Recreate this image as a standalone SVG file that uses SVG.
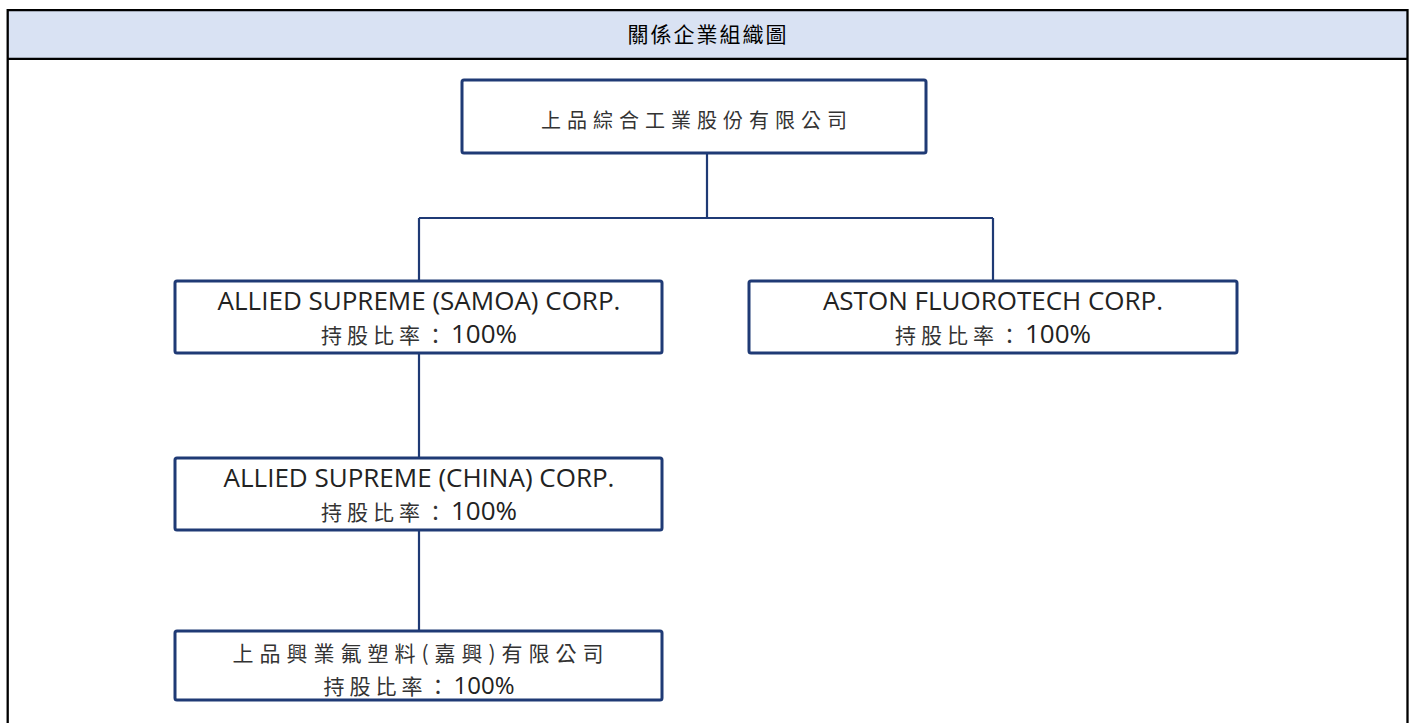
<svg xmlns="http://www.w3.org/2000/svg" width="1410" height="723" viewBox="0 0 1410 723">
<style>
.frame{fill:none;stroke:#000;stroke-width:2.3}
.node{fill:#fff;stroke:#1f3a75;stroke-width:3}
.conn{fill:none;stroke:#1f3a75;stroke-width:2.2}
.lat{font-family:"Open Sans","Noto Sans",sans-serif;font-size:26px;fill:#222}
.cj{font-family:"Noto Sans CJK TC","Noto Sans CJK SC",sans-serif;font-size:21px;letter-spacing:5px;fill:#333}
.title{font-family:"Noto Sans CJK TC","Noto Sans CJK SC",sans-serif;font-size:21px;letter-spacing:2px;fill:#000}
</style>
<rect x="0" y="0" width="1410" height="723" fill="#fff"/>
<g id="table">
<rect x="7.7" y="10.2" width="1399.8" height="48.6" fill="#d9e2f3"/>
<path class="frame" d="M7.7 723V10.2H1407.5V723M7.7 58.8H1407.5"/>
<text class="title" x="708" y="42" text-anchor="middle">關係企業組織圖</text>
</g>
<g id="connectors">
<path class="conn" d="M707 153V218M419 218H993M419 218V281M993 218V281M419 353V458M419 530V631"/>
</g>
<g id="n-parent">
<rect class="node" x="462" y="80" width="464" height="73" rx="2"/>
<text class="cj" x="697" y="128" text-anchor="middle" style="font-size:20px;letter-spacing:6px">上品綜合工業股份有限公司</text>
</g>
<g id="n-samoa">
<rect class="node" x="175" y="281" width="487" height="72" rx="2"/>
<text class="lat" x="419" y="310" text-anchor="middle">ALLIED SUPREME (SAMOA) CORP.</text>
<text x="419" y="343" text-anchor="middle"><tspan class="cj">持股比率：</tspan><tspan class="lat">100%</tspan></text>
</g>
<g id="n-aston">
<rect class="node" x="749" y="281" width="488" height="72" rx="2"/>
<text class="lat" x="993" y="310" text-anchor="middle">ASTON FLUOROTECH CORP.</text>
<text x="993" y="343" text-anchor="middle"><tspan class="cj">持股比率：</tspan><tspan class="lat">100%</tspan></text>
</g>
<g id="n-china">
<rect class="node" x="175" y="458" width="487" height="72" rx="2"/>
<text class="lat" x="419" y="487" text-anchor="middle">ALLIED SUPREME (CHINA) CORP.</text>
<text x="419" y="520" text-anchor="middle"><tspan class="cj">持股比率：</tspan><tspan class="lat">100%</tspan></text>
</g>
<g id="n-jiaxing">
<rect class="node" x="175" y="631" width="487" height="69" rx="2"/>
<text class="cj" x="421" y="661" text-anchor="middle" style="letter-spacing:6px">上品興業氟塑料(嘉興)有限公司</text>
<text x="419" y="694" text-anchor="middle"><tspan class="cj">持股比率：</tspan><tspan class="lat" style="font-size:24px">100%</tspan></text>
</g>
</svg>
